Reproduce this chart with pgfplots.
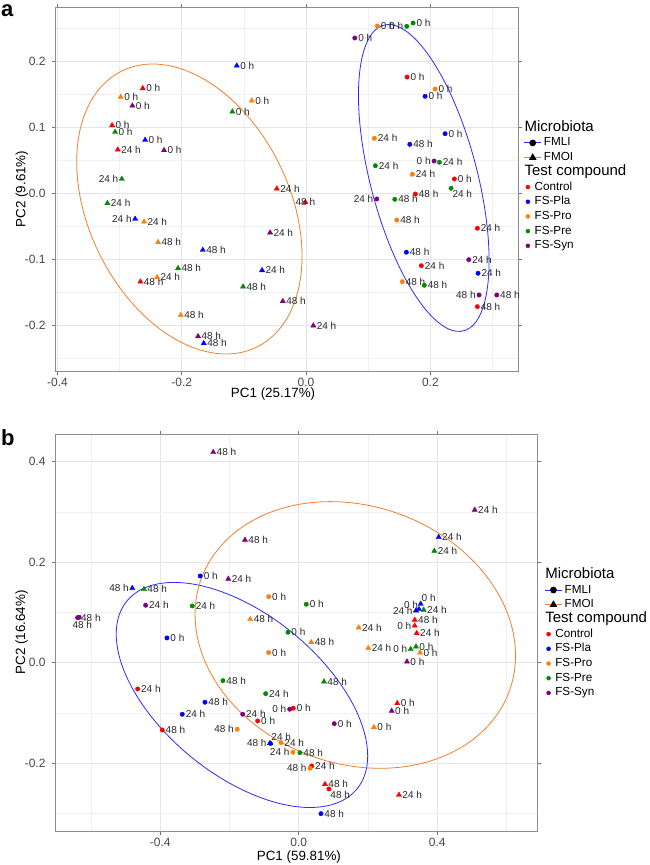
\documentclass[border=0pt]{standalone}
\usepackage{fontspec}
\setmainfont{Liberation Sans}
\usepackage{pgfplots}
\pgfplotsset{compat=1.18}
\definecolor{cR}{HTML}{FF0000}
\definecolor{cB}{HTML}{0000FF}
\definecolor{cO}{HTML}{FF7F00}
\definecolor{cG}{HTML}{008B00}
\definecolor{cP}{HTML}{800080}
\definecolor{eO}{HTML}{EE7F2D}
\definecolor{eB}{HTML}{2B2BFF}
\definecolor{gridM}{HTML}{E4E4EA}
\definecolor{gridm}{HTML}{F0F0F3}

% point-label placement: w = right, e = left, c = centred, n = below,
% a = above right, q = above left, b = below right
\newcommand\lblXw[1]{\smash{\raisebox{-3.6pt}{\makebox[0pt][l]{\hspace{3.5pt}#1~h}}}}
\newcommand\lblXe[1]{\smash{\raisebox{-3.6pt}{\makebox[0pt][r]{#1~h\hspace{3.5pt}}}}}
\newcommand\lblXc[1]{\smash{\raisebox{-3.6pt}{\makebox[0pt][c]{#1~h}}}}
\newcommand\lblXn[1]{\smash{\raisebox{-11pt}{\makebox[0pt][c]{\hspace{6pt}#1~h}}}}
\newcommand\lblXa[1]{\smash{\raisebox{2.5pt}{\makebox[0pt][l]{\hspace{1pt}#1~h}}}}
\newcommand\lblXq[1]{\smash{\raisebox{1pt}{\makebox[0pt][r]{#1~h\hspace{1pt}}}}}
\newcommand\lblXb[1]{\smash{\raisebox{-9.5pt}{\makebox[0pt][l]{\hspace{1.5pt}#1~h}}}}
\def\lbl#1#2\relax{\csname lblX#1\endcsname{#2}}

\pgfplotsset{
  pcabase/.style={
    scale only axis,
    axis line style={draw=black!45, line width=1pt},
    grid=both,
    major grid style={draw=gridM, line width=0.8pt},
    minor grid style={draw=gridm, line width=0.5pt},
    tick align=outside,
    major tick length=3.5pt,
    minor tick length=0pt,
    tick style={draw=black!55, line width=0.8pt},
    tick label style={font=\fontsize{12}{14}\selectfont, text=black!72},
    yticklabel style={xshift=-2.5pt},
    /pgf/number format/assume math mode=true,
    /pgf/number format/fixed,
    /pgf/number format/fixed zerofill,
    /pgf/number format/precision=1,
    label style={font=\fontsize{13.4}{15}\selectfont},
    clip mode=individual,
    legend cell align=left,
    legend style={draw=none, fill=none, inner sep=0pt, anchor=north west,
      column sep=2.2pt, row sep=3.7pt,
      nodes={inner sep=0pt, text height=8.5pt, text depth=2.5pt},
      font=\fontsize{11.7}{13}\selectfont},
  },
  ptsty/.style={
    only marks, forget plot,
    point meta=explicit symbolic,
    nodes near coords={\expandafter\lbl\pgfplotspointmeta\relax},
    every node near coord/.append style={anchor=center, inner sep=0pt,
      font=\fontsize{10}{12}\selectfont, text=black!85},
  },
  circ/.style={ptsty, mark=*, mark size=2.2pt},
  tri/.style={ptsty, mark=triangle*, mark size=3pt},
  dotlegend/.style={legend image code/.code={\draw[##1] plot coordinates {(3.7pt,0pt)};}},
}

\newcommand{\legendblock}{%
  \addlegendimage{empty legend}\addlegendentry{\fontsize{15}{17}\selectfont\hspace*{-19.3pt}Microbiota}
  \addlegendimage{eB, line width=0.9pt, mark=*, mark size=2.9pt, mark options={fill=black, draw=black}}\addlegendentry{FMLI}
  \addlegendimage{eO, line width=0.9pt, mark=triangle*, mark size=3.5pt, mark options={fill=black, draw=black}}\addlegendentry{FMOI}
  \addlegendimage{empty legend}\addlegendentry{\fontsize{15}{17}\selectfont\hspace*{-19.3pt}Test compound}
  \addlegendimage{only marks, mark=*, cR, mark size=2pt, dotlegend}\addlegendentry{\hspace*{-9.3pt}Control}
  \addlegendimage{only marks, mark=*, cB, mark size=2pt, dotlegend}\addlegendentry{\hspace*{-9.3pt}FS-Pla}
  \addlegendimage{only marks, mark=*, cO, mark size=2pt, dotlegend}\addlegendentry{\hspace*{-9.3pt}FS-Pro}
  \addlegendimage{only marks, mark=*, cG, mark size=2pt, dotlegend}\addlegendentry{\hspace*{-9.3pt}FS-Pre}
  \addlegendimage{only marks, mark=*, cP, mark size=2pt, dotlegend}\addlegendentry{\hspace*{-9.3pt}FS-Syn}
}

% confidence ellipse: centre (#1,#2), conjugate semi-axes (#3,#4) and (#5,#6)
\newcommand{\ellipseplot}[8]{%
  \pgfplotsextra{\begin{pgfscope}\pgfsetlinewidth{#8}\pgfsetstrokecolor{#7}%
    \pgfpathellipse{\pgfplotspointaxisxy{#1}{#2}}{\pgfplotspointaxisdirectionxy{#3}{#4}}{\pgfplotspointaxisdirectionxy{#5}{#6}}%
    \pgfusepath{stroke}\end{pgfscope}}%
}

\begin{document}
\begin{tikzpicture}
\path[use as bounding box] (0pt,0pt) rectangle (649pt,-865pt);

\node[anchor=base west, inner sep=0pt, font=\bfseries\fontsize{22}{22}\selectfont] at (1pt,-16pt) {a};
\node[anchor=base west, inner sep=0pt, font=\bfseries\fontsize{22}{22}\selectfont] at (1pt,-445pt) {b};

% ---------- panel a ----------
\begin{axis}[pcabase,
  at={(55pt,-7pt)}, anchor=north west, width=463pt, height=364pt,
  xmin=-0.404, xmax=0.341, ymin=-0.269, ymax=0.2826,
  xtick={-0.4,-0.2,0,0.2}, ytick={-0.2,-0.1,0,0.1,0.2},
  minor xtick={-0.3,-0.1,0.1,0.3}, minor ytick={-0.25,-0.15,-0.05,0.05,0.15,0.25},
  xlabel={PC1 (25.17\%)}, ylabel={PC2 (9.61\%)},
  xlabel style={at={(axis description cs:0.471,-0.0625)}, anchor=center},
  ylabel style={at={(axis description cs:-0.0713,0.5)}, anchor=center},
  legend style={at={(1.012,0.6826)}},
]
\ellipseplot{-0.1878}{-0.0235}{0.1813}{-0.0715}{0}{0.2077}{eO}{0.8pt}
\ellipseplot{0.1894}{0.0235}{0.1051}{-0.1253}{0}{0.1959}{eB}{0.8pt}
% FMLI (circles)
\addplot[circ, cR] coordinates {(0.1625,0.1765)[w0] (0.2386,0.0220)[w0] (0.1759,-0.0008)[w48] (0.2756,-0.0527)[w24] (0.1855,-0.1094)[w24] (0.2756,-0.1715)[w48]};
\addplot[circ, cB] coordinates {(0.1915,0.1473)[w0] (0.2237,0.0906)[w0] (0.1669,0.0745)[w48] (0.1614,-0.0891)[w48] (0.2767,-0.1209)[w24]};
\addplot[circ, cO] coordinates {(0.1147,0.2538)[w0] (0.2076,0.1583)[w0] (0.1099,0.0836)[w24] (0.1710,0.0291)[w24] (0.1459,-0.0402)[w48] (0.1549,-0.1336)[w48]};
\addplot[circ, cG] coordinates {(0.1620,0.2533)[e0] (0.1722,0.2583)[w0] (0.2145,0.0473)[w24] (0.1115,0.0421)[w24] (0.2333,0.0079)[b24] (0.1427,-0.0088)[w48] (0.1903,-0.1391)[w48]};
\addplot[circ, cP] coordinates {(0.0784,0.2356)[w0] (0.2060,0.0492)[e0] (0.1138,-0.0083)[e24] (0.2618,-0.1003)[w24] (0.2784,-0.1538)[e48] (0.3068,-0.1538)[w48]};
% FMOI (triangles)
\addplot[tri, cR] coordinates {(-0.2628,0.1594)[w0] (-0.3121,0.1033)[w0] (-0.3030,0.0664)[w24] (-0.0471,0.0073)[w24] (-0.0011,-0.0133)[c48] (-0.2666,-0.1336)[w48]};
\addplot[tri, cB] coordinates {(-0.1115,0.1936)[w0] (-0.2590,0.0811)[w0] (-0.2751,-0.0386)[e24] (-0.1662,-0.0856)[w48] (-0.0708,-0.1164)[w24] (-0.1646,-0.2270)[w48]};
\addplot[tri, cO] coordinates {(-0.2982,0.1462)[w0] (-0.0874,0.1406)[w0] (-0.2607,-0.0427)[w24] (-0.2381,-0.0739)[w48] (-0.2397,-0.1270)[w24] (-0.2016,-0.1845)[w48]};
\addplot[tri, cG] coordinates {(-0.1186,0.1239)[w0] (-0.3073,0.0932)[w0] (-0.2965,0.0220)[e24] (-0.3197,-0.0148)[w24] (-0.2060,-0.1133)[w48] (-0.1014,-0.1412)[w48]};
\addplot[tri, cP] coordinates {(-0.2795,0.1330)[w0] (-0.2285,0.0655)[w0] (-0.0579,-0.0594)[w24] (-0.0375,-0.1633)[w48] (-0.1738,-0.2164)[w48] (0.0117,-0.2003)[w24]};
\legendblock
\end{axis}

% ---------- panel b ----------
\begin{axis}[pcabase,
  at={(55pt,-434pt)}, anchor=north west, width=482pt, height=397pt,
  xmin=-0.704, xmax=0.688, ymin=-0.335, ymax=0.455,
  xtick={-0.4,0,0.4}, ytick={-0.2,0,0.2,0.4},
  minor xtick={-0.6,-0.2,0.2,0.6}, minor ytick={-0.3,-0.1,0.1,0.3},
  xlabel={PC1 (59.81\%)}, ylabel={PC2 (16.64\%)},
  xlabel style={at={(axis description cs:0.506,-0.0655)}, anchor=center},
  ylabel style={at={(axis description cs:-0.0691,0.5)}, anchor=center},
  legend style={at={(1.015,0.6584)}},
]
\ellipseplot{-0.1641}{-0.0643}{0.3631}{-0.1212}{0}{0.1883}{eB}{0.8pt}
\ellipseplot{0.1632}{0.0551}{0.4627}{-0.0410}{0}{0.2621}{eO}{0.8pt}
% FMLI (circles)
\addplot[circ, cR] coordinates {(-0.4653,-0.0523)[w24] (-0.0159,-0.0907)[w0] (-0.1187,-0.1160)[w0] (-0.3943,-0.1339)[w48] (0.0373,-0.2056)[w24] (0.0872,-0.2513)[b48]};
\addplot[circ, cB] coordinates {(-0.2845,0.1725)[w0] (-0.3807,0.0492)[w0] (-0.2709,-0.0788)[w48] (-0.3365,-0.1027)[w24] (-0.0817,-0.1608)[a24] (0.0641,-0.3005)[w48]};
\addplot[circ, cO] coordinates {(-0.0869,0.1313)[w0] (-0.0869,0.0203)[w0] (-0.1776,-0.1325)[e48] (-0.0514,-0.1592)[w24] (-0.0168,-0.1783)[e24] (0.0324,-0.2101)[e48]};
\addplot[circ, cG] coordinates {(0.0217,0.1162)[w0] (-0.0312,0.0605)[w0] (-0.3076,0.1128)[w24] (-0.2189,-0.0358)[w48] (-0.0956,-0.0617)[w24] (0.0035,-0.1791)[w48]};
\addplot[circ, cP] coordinates {(-0.6387,0.0896)[w48] (-0.6340,0.0903)[n48] (-0.4422,0.1142)[w24] (-0.0263,-0.0927)[e0] (-0.1620,-0.1027)[w24] (0.1025,-0.1214)[w0]};
% FMOI (triangles)
\addplot[tri, cP] coordinates {(-0.2470,0.4187)[w48] (-0.1554,0.2442)[w48] (-0.2036,0.1666)[w24] (0.5081,0.3039)[w24] (0.3125,0.0020)[w0] (0.2683,-0.0961)[w0]};
\addplot[tri, cO] coordinates {(-0.1401,0.0864)[w48] (0.0361,0.0406)[w48] (0.1730,0.0697)[w24] (0.2008,0.0287)[w24] (0.3501,0.0199)[w0] (0.2172,-0.1286)[w0]};
\addplot[tri, cG] coordinates {(-0.4471,0.1461)[w48] (0.3914,0.2223)[w24] (0.3608,0.1049)[w24] (0.0728,-0.0378)[w48] (0.3232,0.0267)[e0] (0.3385,0.0318)[w0]};
\addplot[tri, cR] coordinates {(0.3348,0.0850)[w48] (0.3348,0.0736)[e0] (0.3406,0.0585)[w24] (0.2845,-0.0808)[w0] (0.0757,-0.2420)[w48] (0.2894,-0.2633)[w24]};
\addplot[tri, cB] coordinates {(-0.4809,0.1481)[e48] (0.4041,0.2496)[w24] (0.3521,0.1168)[a0] (0.3472,0.1063)[q0] (0.3385,0.1035)[e24] (-0.0832,-0.1604)[e48]};
\legendblock
\end{axis}
\end{tikzpicture}
\end{document}
